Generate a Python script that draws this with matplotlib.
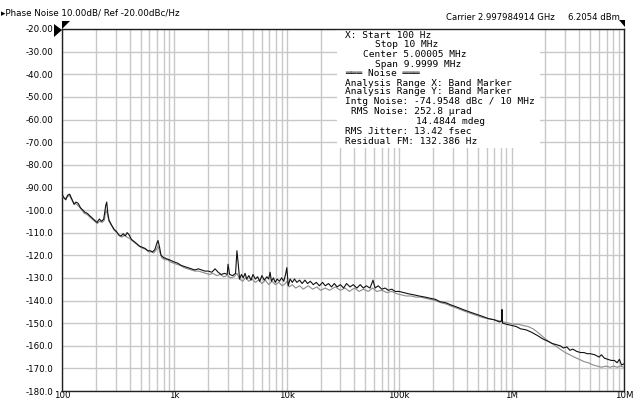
"""
Phase noise screen capture: two traces on a log frequency axis.
Style: white background, light grey grid, black + grey traces, info box.
"""

import matplotlib
matplotlib.use("Agg")
import matplotlib.pyplot as plt
from matplotlib.patches import Rectangle, Polygon

# Trace 1 (black)
black_freq = [
    100, 104, 108, 112, 117, 122, 128, 133, 139, 146, 153, 160, 168, 176, 185,
    195, 205, 215, 225, 235, 245, 250, 255, 262, 275, 290, 305, 320, 335, 350,
    365, 380, 395, 415, 440, 465, 490, 520, 550, 580, 610, 640, 670, 700, 715,
    735, 760, 800, 850, 900, 950, 1000, 1070, 1150, 1230, 1320, 1420, 1520,
    1630, 1750, 1870, 2000, 2150, 2300, 2450, 2600, 2800, 2950, 3000, 3100,
    3300, 3500, 3600, 3700,
    3800, 3950, 4100, 4250, 4400, 4600, 4800, 5000, 5250, 5500, 5750, 6000,
    6300, 6650, 6900, 7100, 7300, 7600, 7900, 8200, 8600, 9000, 9400, 9800,
    10000, 10300, 10700, 11200, 11700, 12300, 13000, 13700, 14500, 15300,
    16200, 17200, 18300, 19500, 20800, 22000, 23500, 25000, 26500, 28000,
    30000, 32000, 34000, 36500, 39000, 42000, 45000, 48000, 51000, 55000,
    58500, 61000, 65000, 70000, 75000, 80000, 86000, 92000,
    100000, 110000, 120000, 135000, 150000, 170000,
    190000, 210000, 230000, 260000, 290000, 330000, 370000, 420000, 480000,
    550000, 620000, 700000, 780000, 815000, 822000, 830000, 900000, 1000000,
    1100000, 1200000, 1350000, 1500000, 1700000, 1900000, 2100000, 2300000,
    2500000, 2700000, 2900000, 3100000, 3300000, 3500000, 3800000, 4100000,
    4400000, 4700000, 5000000, 5500000, 6000000, 6300000, 6700000, 7200000,
    7700000, 8200000, 8700000, 9100000, 9500000, 10000000,
]
black_db = [
    -93.0, -94.5, -95.5, -93.5, -93.0, -95.0, -97.5, -96.5, -97.0, -99.0,
    -100.0, -101.0, -101.5, -102.5, -103.5, -104.5, -105.5, -104.0, -105.0,
    -104.0, -98.0, -96.5, -101.0, -104.5, -106.5, -108.5, -109.5, -111.0,
    -111.5, -110.5, -111.5, -110.0, -111.0, -113.0, -114.0, -115.0, -116.0,
    -116.5, -117.0, -118.0, -118.0, -118.5, -117.5, -114.5, -113.5, -116.0,
    -120.0, -121.0, -121.5, -122.0, -122.5, -123.0, -123.5, -124.5, -125.0,
    -125.5, -126.0, -126.5, -126.0, -126.5, -127.0, -127.0, -127.5, -126.0,
    -127.5, -128.5, -128.0, -128.5, -124.0, -128.5, -129.0, -128.0, -118.0,
    -124.0,
    -130.5, -128.5, -130.0, -128.0, -130.5, -129.0, -131.0, -128.5, -130.5,
    -129.5, -131.5, -129.0, -131.0, -129.5, -130.5, -127.5, -131.5, -130.0,
    -132.0, -130.5, -131.5, -130.0, -131.5, -128.0,
    -125.5, -133.5, -130.5, -132.0, -130.5, -132.0, -131.0, -132.5, -131.0,
    -132.5, -131.5, -133.0, -132.0, -133.5, -132.0, -133.5, -132.5, -134.0,
    -132.5, -134.0, -133.0, -134.5, -132.5, -134.0, -133.0, -134.5, -133.0,
    -134.5, -133.5, -134.5, -131.0, -134.5, -133.5, -135.0, -134.5, -135.5,
    -135.0, -136.0,
    -136.0, -136.5, -137.0, -137.5, -138.0, -138.5, -139.0, -139.5, -140.5,
    -141.0, -142.0, -143.0, -144.0, -145.0, -146.0, -147.0, -148.0, -148.5,
    -149.5, -149.0, -144.0, -150.0, -150.5, -151.0, -151.5, -152.5, -153.0,
    -154.0, -155.5, -157.0, -158.0, -159.0, -159.5, -160.0, -161.0, -160.5,
    -162.0, -161.5, -162.5, -163.0, -163.0, -163.5, -163.5, -164.0, -165.0,
    -164.0, -165.5, -166.0, -166.5, -166.5, -167.5, -166.0, -168.5, -168.0,
]

# Trace 2 (grey)
grey_freq = [
    100, 105, 110, 116, 122, 128, 135, 142, 150, 158, 167, 176, 186, 196, 206,
    216, 228, 238, 246, 252, 262, 277, 292, 308, 325, 342, 360, 378, 398, 420,
    445, 470, 500, 530, 560, 590, 620, 655, 690, 715, 740, 770, 820, 870, 920,
    980, 1050, 1130, 1220, 1310, 1410, 1520, 1640, 1770, 1900, 2050, 2200,
    2380, 2560, 2750, 2950, 3150, 3400, 3600, 3800, 4050, 4300, 4600, 4900,
    5250, 5600, 6000, 6450, 6900, 7400, 7900, 8500, 9100, 9700, 10000, 10500,
    11200, 12000, 13000, 14000, 15500, 17000, 18500, 20000, 22000, 24000,
    27000, 30000, 33000, 36000, 40000, 44000, 48000, 53000, 58000, 63000,
    70000, 78000, 86000, 95000, 105000, 115000, 127000, 140000, 155000,
    170000, 190000, 210000, 235000, 260000, 290000, 330000, 370000, 420000,
    480000, 550000, 620000, 700000, 780000, 850000, 950000, 1050000, 1150000,
    1250000, 1400000, 1550000, 1700000, 1850000, 2000000, 2200000, 2450000,
    2700000, 3000000, 3300000, 3600000, 4000000, 4400000, 4800000, 5300000,
    5800000, 6300000, 6900000, 7500000, 8100000, 8700000, 9300000, 10000000,
]
grey_db = [
    -93.5, -95.0, -94.5, -93.5, -95.5, -97.0, -97.5, -98.5, -100.0, -101.5,
    -102.0, -103.0, -104.0, -105.0, -106.0, -105.0, -105.5, -104.5, -100.0,
    -101.5, -105.0, -107.0, -109.0, -110.0, -111.5, -112.0, -111.0, -112.0,
    -112.5, -113.5, -114.5, -115.5, -116.5, -117.0, -117.5, -118.5, -118.5,
    -119.0, -117.5, -116.0, -118.5, -121.0, -122.0, -122.0, -123.0, -123.5,
    -124.0, -124.5, -125.5, -126.0, -126.5, -127.0, -127.0, -127.5, -128.0,
    -128.5, -128.0, -129.0, -128.5, -129.5, -129.0, -130.0, -129.5, -128.0,
    -130.5, -131.5, -130.0, -131.5, -130.5, -132.0, -131.0, -132.5, -131.0,
    -133.0, -131.5, -133.0, -132.0, -133.5, -132.5, -131.5, -134.0, -133.0,
    -134.5, -133.5, -135.0, -133.5, -135.0, -134.0, -135.5, -134.5, -135.5,
    -134.0, -135.5, -134.5, -136.0, -134.5, -136.0, -135.0, -136.0, -134.5,
    -136.0, -135.5, -136.5, -136.0, -137.0, -137.5, -138.0, -138.0, -138.5,
    -138.5, -139.0, -139.5, -140.0, -141.0, -141.5, -142.5, -143.5, -144.5,
    -145.5, -146.5, -147.5, -148.0, -148.5, -149.0, -149.5, -150.0, -150.5,
    -150.5, -151.0, -151.5, -152.5, -154.0, -155.5, -157.0, -158.5, -160.0,
    -161.5, -163.0, -164.0, -165.0, -166.0, -167.0, -167.5, -168.5, -169.0,
    -169.5, -169.0, -169.5, -169.0, -169.5, -169.0, -169.5,
]

x_ticks = [1e2, 1e3, 1e4, 1e5, 1e6, 1e7]
x_labels = ["100", "1k", "10k", "100k", "1M", "10M"]
y_ticks = list(range(-20, -181, -10))
y_labels = [f"{v:.2f}" if v > -100 else f"{v:.1f}" for v in y_ticks]

info_lines = [
    ("X: Start 100 Hz", 345, 35),
    ("Stop 10 MHz", 375, 44.5),
    ("Center 5.00005 MHz", 363, 54.5),
    ("Span 9.9999 MHz", 375, 64.5),
    ("\u2550\u2550\u2550 Noise \u2550\u2550\u2550", 345, 74),
    ("Analysis Range X: Band Marker", 345, 83.5),
    ("Analysis Range Y: Band Marker", 345, 91),
    ("Intg Noise: -74.9548 dBc / 10 MHz", 345, 101),
    ("RMS Noise: 252.8 \u00b5rad", 351, 111.5),
    ("14.4844 mdeg", 416, 121.5),
    ("RMS Jitter: 13.42 fsec", 345, 132),
    ("Residual FM: 132.386 Hz", 345, 141),
]

GRID_COLOR = "#c8c8c8"
W, H = 637, 403
AX_L, AX_R, AX_T, AX_B = 62, 624, 29, 391

fig = plt.figure(figsize=(W / 100, H / 100), dpi=100)
fig.patch.set_facecolor("white")
ax = fig.add_axes([AX_L / W, 1 - AX_B / H, (AX_R - AX_L) / W, (AX_B - AX_T) / H])

ax.set_xscale("log")
ax.set_xlim(1e2, 1e7)
ax.set_ylim(-180, -20)

ax.set_xticks(x_ticks)
ax.set_xticklabels(x_labels)
ax.set_yticks(y_ticks)
ax.set_yticklabels(y_labels)
ax.tick_params(axis="both", length=0, labelsize=6.2, colors="black")
ax.tick_params(axis="y", pad=6.5)
ax.tick_params(axis="x", pad=0)
ax.tick_params(axis="x", which="minor", length=0)
ax.grid(True, which="both", axis="x", color=GRID_COLOR, linewidth=1.0, zorder=0)
ax.grid(True, which="major", axis="y", color=GRID_COLOR, linewidth=1.0, zorder=0)
ax.set_axisbelow(True)
for sp in ax.spines.values():
    sp.set_color("#202020")
    sp.set_linewidth(1.0)


def px_to_axes(x, y):
    return (x - AX_L) / (AX_R - AX_L), (AX_B - y) / (AX_B - AX_T)


# white info box masking the grid
bx0, by1 = px_to_axes(337, 148)
bx1, _ = px_to_axes(540, 29)
ax.add_patch(Rectangle((bx0, by1), bx1 - bx0, 1 - by1, transform=ax.transAxes,
                       facecolor="white", edgecolor="none", zorder=1))

ax.plot(grey_freq, grey_db, color="#8c8c8c", linewidth=0.8, zorder=3)
ax.plot(black_freq, black_db, color="#111111", linewidth=0.8, zorder=4)

for txt, px, py in info_lines:
    ax_x, ax_y = px_to_axes(px, py)
    ax.text(ax_x, ax_y, txt, transform=ax.transAxes, family="DejaVu Sans Mono",
            fontsize=6.8, va="center", ha="left", color="black", zorder=5)

# header texts
fig.text(1 / W, 1 - 13 / H, "\u25b8Phase Noise 10.00dB/ Ref -20.00dBc/Hz",
         fontsize=6.3, va="center", ha="left", color="black")
fig.text(555 / W, 1 - 17 / H, "Carrier 2.997984914 GHz",
         fontsize=6.1, va="center", ha="right", color="black")
fig.text(568 / W, 1 - 17 / H, "6.2054 dBm",
         fontsize=6.1, va="center", ha="left", color="black")

# reference / marker flags
fig.patches.append(Polygon([(54 / W, 1 - 24 / H), (62 / W, 1 - 30 / H), (54 / W, 1 - 37 / H)],
                           closed=True, transform=fig.transFigure, facecolor="black",
                           edgecolor="none"))
fig.patches.append(Polygon([(62 / W, 1 - 21 / H), (70 / W, 1 - 21 / H), (62 / W, 1 - 29 / H)],
                           closed=True, transform=fig.transFigure, facecolor="black",
                           edgecolor="none"))
fig.patches.append(Polygon([(619 / W, 1 - 20 / H), (625 / W, 1 - 20 / H), (625 / W, 1 - 27 / H)],
                           closed=True, transform=fig.transFigure, facecolor="black",
                           edgecolor="none"))

fig.savefig("out.png", dpi=100, facecolor="white")
